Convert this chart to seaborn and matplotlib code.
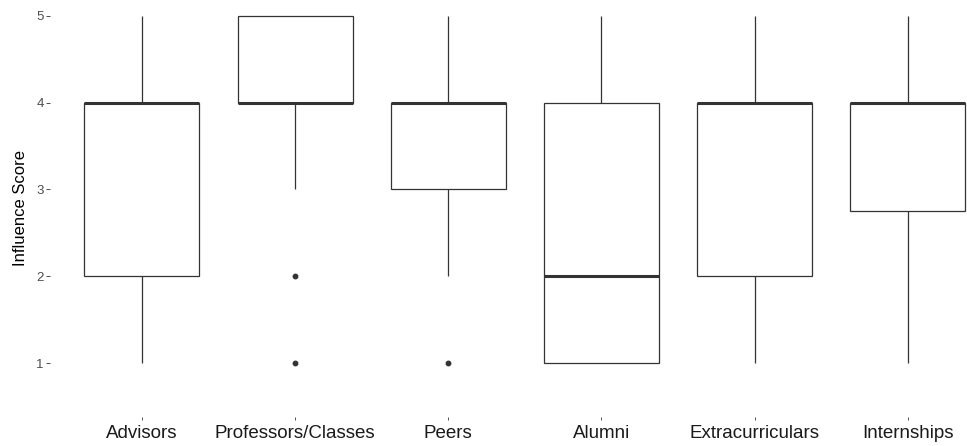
import numpy as np
import pandas as pd
import matplotlib
matplotlib.use("Agg")
import matplotlib.pyplot as plt
import seaborn as sns

# Survey responses: influence score (1-5) for each source
categories = ["Advisors", "Professors/Classes", "Peers", "Alumni",
              "Extracurriculars", "Internships"]
advisors = [1, 2, 2, 3, 4, 4, 4, 4, 5]
professors_classes = [1, 2, 3, 4, 4, 4, 4, 4, 5, 5, 5, 5, 5]
peers = [1, 2, 3, 3, 4, 4, 4, 4, 5]
alumni = [1, 1, 1, 2, 2, 3, 4, 4, 5]
extracurriculars = [1, 2, 2, 3, 4, 4, 4, 4, 5]
internships = [1, 2, 3, 4, 4, 4, 4, 5]
y_ticks = [1, 2, 3, 4, 5]

scores = [advisors, professors_classes, peers, alumni, extracurriculars, internships]
df = pd.DataFrame({
    "Source": np.repeat(categories, [len(s) for s in scores]),
    "Influence Score": np.concatenate(scores),
})

sns.set_theme(style="white")
plt.rcParams["font.family"] = ["Liberation Sans", "DejaVu Sans"]

W, H = 967, 446
fig = plt.figure(figsize=(W / 100, H / 100), dpi=100)
left, right, top, bottom = 50, 967, 0, 417
ax = fig.add_axes([left / W, 1 - bottom / H, (right - left) / W, (bottom - top) / H])

edge = "#333333"
sns.boxplot(
    data=df, x="Source", y="Influence Score", order=categories, ax=ax,
    color="white", linecolor=edge, linewidth=0.9, width=0.75, whis=1.5,
    showcaps=False,
    medianprops=dict(color=edge, linewidth=2.2),
    flierprops=dict(marker="o", markersize=3.2, markerfacecolor=edge,
                    markeredgecolor=edge),
)
for p in ax.patches:
    p.set_facecolor("white")

ax.set_xlim(-0.6, 5.387)
ax.set_ylim(0.378, 5.184)
ax.set_yticks(y_ticks)
ax.set_yticklabels([str(v) for v in y_ticks])

for s in ax.spines.values():
    s.set_visible(False)
ax.grid(False)
ax.set_facecolor("white")

ax.tick_params(axis="y", which="both", left=True, length=3.0, width=0.6,
               color=edge, labelsize=9.5, labelcolor="#4D4D4D", pad=1.5)
ax.tick_params(axis="x", which="both", bottom=True, length=2.5, width=0.6,
               color=edge, labelsize=13.5, labelcolor="#1A1A1A", pad=3)

ax.set_xlabel("")
ax.set_ylabel("Influence Score", fontsize=12, color="#000000", labelpad=6)

fig.savefig("out.png", dpi=100, facecolor="white")
